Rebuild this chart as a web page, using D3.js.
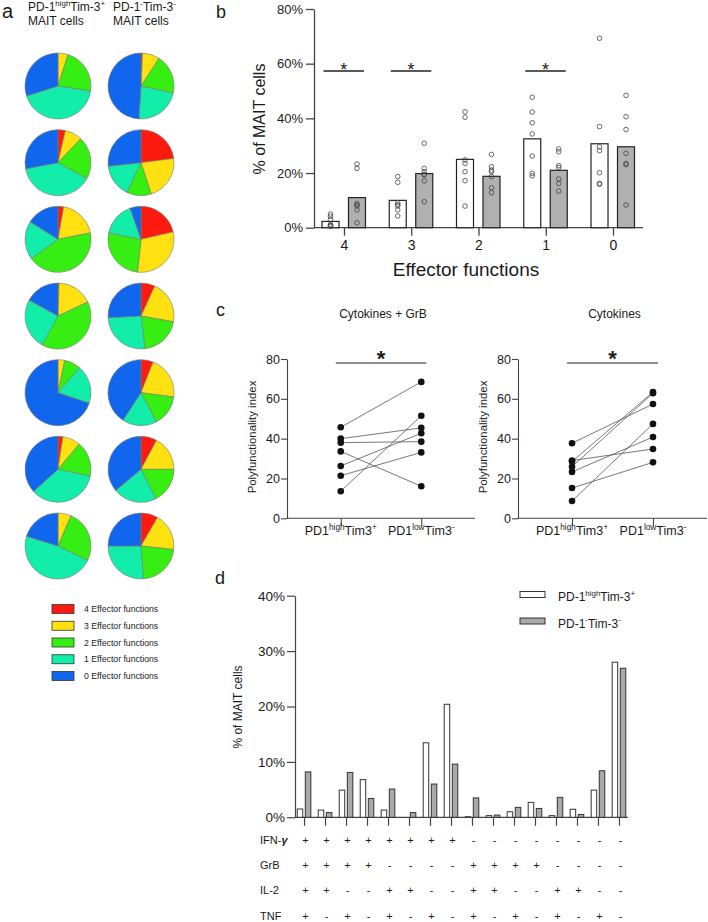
<!DOCTYPE html>
<html><head><meta charset="utf-8">
<script src="https://cdn.jsdelivr.net/npm/d3@7"></script>
<style>
body{margin:0;background:#fff}
svg{display:block}
text{font-family:"Liberation Sans",Arial,Helvetica,sans-serif;fill:#1a1a1a}
</style>
</head><body>
<svg id="fig" width="708" height="922"></svg>
<script>
// ================= DATA =================
// Panel a: pies (fraction of MAIT cells with 4,3,2,1,0 effector functions), one row per patient
const pieClasses = ["4 Effector functions","3 Effector functions","2 Effector functions","1 Effector functions","0 Effector functions"];
const pieColors = ["#ff1a10","#ffe010","#36ee12","#12eeaa","#1166ee"];
const pieHigh = [
  [0,4.9,22.6,42.6,29.9],
  [3.6,8.5,21.0,38.9,28.0],
  [2.8,19.1,43.3,18.9,16.1],
  [0.5,17.5,40.0,25.0,17.0],
  [0,3.3,8.0,18.9,69.8],
  [2.4,8.7,17.2,35.0,36.7],
  [0,6.5,25.7,47.6,20.2]
];
const pieNeg = [
  [0.8,8.4,19.3,22.5,49.0],
  [23.0,22.0,12.0,16.3,26.7],
  [21.4,30.3,26.5,16.4,5.4],
  [6.9,20.9,20.3,26.1,25.8],
  [6.0,21.1,15.2,16.9,40.8],
  [7.8,17.2,17.5,21.4,36.1],
  [8.3,18.4,22.2,26.1,25.0]
];

// Panel b
const effCats = ["4","3","2","1","0"];
const bHighMean = [2.3,10.0,25.0,32.5,30.7];
const bNegMean = [11.0,19.8,18.8,21.0,29.6];
const bHighPts = [
  [5.0,4.2,3.0,1.2,0.8,0.6,0.5],
  [18.7,16.6,9.1,8.4,8.0,6.5,4.3],
  [42.4,40.4,24.8,23.5,20.5,17.2,7.9],
  [47.7,42.3,38.4,34.3,26.2,19.9,19.0],
  [69.3,37.0,29.6,28.2,20.1,16.2,15.9]
];
const bNegPts = [
  [23.3,21.7,8.9,8.3,8.0,6.5,1.8],
  [30.9,21.7,20.5,19.5,19.3,17.1,9.5],
  [26.8,22.3,21.1,20.5,18.7,14.6,12.8],
  [28.8,27.8,22.7,22.0,17.8,16.2,13.4],
  [48.4,40.6,35.9,27.2,23.5,23.0,8.3]
];
const bSignif = ["4","3","1"];
const bTicks = [0,20,40,60,80];

// Panel c
const cGroups = ["high","low"];
const cGrbHigh = [45.7,40.0,38.0,33.6,26.3,21.4,13.6];
const cGrbLow  = [68.5,45.4,38.5,16.1,42.7,33.1,51.5];
const cCytHigh = [37.7,29.0,28.5,25.9,23.3,15.2,8.7];
const cCytLow  = [57.4,34.8,63.4,62.8,40.8,28.1,47.4];
const cTicks = [0,20,40,60,80];

// Panel d
const dHigh = [1.5,1.3,4.9,6.8,1.3,0,13.45,20.4,0.1,0.3,1.0,2.7,0.3,1.45,4.9,28.0];
const dNeg  = [8.2,0.85,8.1,3.4,5.1,0.85,6.0,9.6,3.5,0.4,1.8,1.6,3.6,0.5,8.4,26.9];
const dMarkers = ["IFN-γ","GrB","IL-2","TNF"];
const dCombos = [
  "++++++++--------",
  "++++----++++----",
  "++--++--++--++--",
  "+-+-+-+-+-+-+-+-"
];
const dTicks = [0,10,20,30,40];

// ================= DRAW =================
const svg = d3.select("#fig");

function rich(sel, parts, size){
  let shifted = false;
  parts.forEach(([t, sup]) => {
    const ts = sel.append("tspan").text(t);
    if (sup) { ts.attr("font-size", size*0.66).attr("dy", shifted ? 0 : -size*0.42); shifted = true; }
    else { ts.attr("font-size", size).attr("dy", shifted ? size*0.42 : 0); shifted = false; }
  });
  return sel;
}

// ---------- Panel a ----------
svg.append("text").attr("x",2).attr("y",18).attr("font-size",20).text("a");
rich(svg.append("text").attr("x",28).attr("y",11), [["PD-1"],["high",1],["Tim-3"],["+",1]], 12);
svg.append("text").attr("x",28).attr("y",25).attr("font-size",12).text("MAIT cells");
rich(svg.append("text").attr("x",113).attr("y",11), [["PD-1"],["-",1],["Tim-3"],["-",1]], 12);
svg.append("text").attr("x",113).attr("y",25).attr("font-size",12).text("MAIT cells");

const pieRowY = d3.scalePoint().domain(d3.range(pieHigh.length)).range([86,546]);
const pieColX = d3.scalePoint().domain(["high","neg"]).range([58,141]);
const pie = d3.pie().sort(null).value(d=>d);
const arc = d3.arc().innerRadius(0).outerRadius(33);
[["high",pieHigh],["neg",pieNeg]].forEach(([k,rows])=>{
  rows.forEach((vals,i)=>{
    const g = svg.append("g").attr("transform",`translate(${pieColX(k)},${pieRowY(i)})`);
    g.selectAll("path").data(pie(vals).filter(d=>d.data>0)).join("path")
      .attr("d",arc).attr("fill",d=>pieColors[d.index])
      .attr("stroke","#7a7a6a").attr("stroke-width",0.6);
  });
});
const legA = d3.scalePoint().domain(pieClasses).range([609,676]);
pieClasses.forEach((c,i)=>{
  svg.append("rect").attr("x",52).attr("y",legA(c)-4.5).attr("width",22).attr("height",9)
    .attr("fill",pieColors[i]).attr("stroke","#333").attr("stroke-width",0.8);
  svg.append("text").attr("x",84).attr("y",legA(c)+3.2).attr("font-size",8.7).text(c);
});

// ---------- Panel b ----------
svg.append("text").attr("x",216).attr("y",18).attr("font-size",18).text("b");
const xB = d3.scalePoint().domain(effCats).range([314,643]).padding(0.446);
const subB = d3.scaleBand().domain(["high","neg"]).range([-22,21.5]).paddingInner(0.358);
const yB = d3.scaleLinear().domain([0,80]).range([227.7,9]);
const axB = svg.append("g").attr("transform","translate(314,0)")
  .call(d3.axisLeft(yB).tickValues(bTicks).tickFormat(d=>d+"%").tickSize(8).tickPadding(3).tickSizeOuter(0));
const axBx = svg.append("g").attr("transform","translate(0,227.7)")
  .call(d3.axisBottom(xB).tickSize(8).tickPadding(4).tickSizeOuter(0));
axBx.select(".domain").attr("d","M314,0H643");
[axB,axBx].forEach(a=>{a.selectAll("path,line").attr("stroke","#444").attr("stroke-width",1.3);
  a.selectAll("text").attr("font-family",null).attr("fill","#1a1a1a");});
axB.selectAll("text").attr("font-size",13);
axBx.selectAll("text").attr("font-size",14);
svg.append("text").attr("transform","translate(265,119) rotate(-90)").attr("text-anchor","middle")
  .attr("font-size",16).text("% of MAIT cells");
svg.append("text").attr("x",466).attr("y",276).attr("text-anchor","middle").attr("font-size",19).text("Effector functions");
[["high",bHighMean,bHighPts,"#ffffff"],["neg",bNegMean,bNegPts,"#b0b0b0"]].forEach(([k,means,pts,fill])=>{
  effCats.forEach((c,i)=>{
    const x0 = xB(c)+subB(k);
    svg.append("rect").attr("x",x0).attr("y",yB(means[i])).attr("width",subB.bandwidth())
      .attr("height",yB(0)-yB(means[i])).attr("fill",fill).attr("stroke","#222").attr("stroke-width",1.2);
    svg.append("g").selectAll("circle").data(pts[i]).join("circle")
      .attr("cx",x0+subB.bandwidth()/2).attr("cy",d=>yB(d)).attr("r",2.3)
      .attr("fill","none").attr("stroke","#444").attr("stroke-width",0.8);
  });
});
bSignif.forEach(c=>{
  const xa = xB(c)+subB("high")+subB.bandwidth()/2+2, xb = xB(c)+subB("neg")+subB.bandwidth()/2-2;
  svg.append("line").attr("x1",xa-9).attr("x2",xb+9).attr("y1",71).attr("y2",71).attr("stroke","#222").attr("stroke-width",1.3);
  svg.append("text").attr("x",(xa+xb)/2).attr("y",76).attr("text-anchor","middle").attr("font-size",18).text("*");
});

// ---------- Panel c ----------
svg.append("text").attr("x",216).attr("y",316).attr("font-size",18).text("c");
const yC = d3.scaleLinear().domain([0,80]).range([518.3,359]);
function panelC(x0, x1, title, hi, lo){
  const xC = d3.scalePoint().domain(cGroups).range([x0,x1]).padding(0.667);
  svg.append("text").attr("x",xC("high")/2+xC("low")/2+2).attr("y",318).attr("text-anchor","middle")
    .attr("font-size",12).text(title);
  const ay = svg.append("g").attr("transform",`translate(${x0},0)`)
    .call(d3.axisLeft(yC).tickValues(cTicks).tickSize(6).tickPadding(1).tickSizeOuter(0));
  const ax = svg.append("g").attr("transform",`translate(0,${yC(0)})`)
    .call(d3.axisBottom(xC).tickSize(7).tickFormat("").tickSizeOuter(0));
  ax.select(".domain").attr("d",`M${x0},0H${x1}`);
  [ay,ax].forEach(a=>{a.selectAll("path,line").attr("stroke","#444").attr("stroke-width",1.1);
    a.selectAll("text").attr("font-family",null).attr("font-size",12.5).attr("fill","#1a1a1a");});
  rich(svg.append("text").attr("x",xC("high")).attr("y",535).attr("text-anchor","middle"),
    [["PD1"],["high",1],["Tim3"],["+",1]],12.5);
  rich(svg.append("text").attr("x",xC("low")).attr("y",535).attr("text-anchor","middle"),
    [["PD1"],["low",1],["Tim3"],["-",1]],12.5);
  svg.append("text").attr("transform",`translate(${x0-31.5},437) rotate(-90)`).attr("text-anchor","middle")
    .attr("font-size",11.4).text("Polyfunctionality index");
  const pairs = hi.map((h,i)=>[h, lo[i]]);
  svg.append("g").selectAll("line").data(pairs).join("line")
    .attr("x1",xC("high")).attr("x2",xC("low")).attr("y1",d=>yC(d[0])).attr("y2",d=>yC(d[1]))
    .attr("stroke","#555").attr("stroke-width",0.8);
  svg.append("g").selectAll("circle").data(hi).join("circle")
    .attr("cx",xC("high")).attr("cy",d=>yC(d)).attr("r",3.3).attr("fill","#111");
  svg.append("g").selectAll("circle").data(lo).join("circle")
    .attr("cx",xC("low")).attr("cy",d=>yC(d)).attr("r",3.3).attr("fill","#111");
  svg.append("line").attr("x1",xC("high")-5).attr("x2",xC("low")+5).attr("y1",363).attr("y2",363)
    .attr("stroke","#222").attr("stroke-width",1.1);
  svg.append("text").attr("x",(xC("high")+xC("low"))/2).attr("y",366).attr("text-anchor","middle")
    .attr("font-size",22).attr("font-weight","bold").text("*");
}
panelC(287,475,"Cytokines + GrB",cGrbHigh,cGrbLow);
panelC(518,707,"Cytokines",cCytHigh,cCytLow);

// ---------- Panel d ----------
svg.append("text").attr("x",215).attr("y",584).attr("font-size",18).text("d");
const comboIds = d3.range(dHigh.length).map(i=>dCombos.map(s=>s[i]).join(""));
const xD = d3.scalePoint().domain(comboIds).range([295,628]).padding(0.43);
const subD = d3.scaleBand().domain(["high","neg"]).range([-6.8,6.8]).paddingInner(0.32);
const yD = d3.scaleLinear().domain([0,40]).range([817.3,595.7]);
const ayD = svg.append("g").attr("transform","translate(295,0)")
  .call(d3.axisLeft(yD).tickValues(dTicks).tickFormat(d=>d+"%").tickSize(8).tickPadding(2).tickSizeOuter(0));
const axD = svg.append("g").attr("transform",`translate(0,${yD(0)})`)
  .call(d3.axisBottom(xD).tickSize(8.5).tickFormat("").tickSizeOuter(0));
axD.select(".domain").attr("d","M295,0H628");
[ayD,axD].forEach(a=>{a.selectAll("path,line").attr("stroke","#444").attr("stroke-width",1.2);
  a.selectAll("text").attr("font-family",null).attr("font-size",13.5).attr("fill","#1a1a1a");});
svg.append("text").attr("transform","translate(242,707) rotate(-90)").attr("text-anchor","middle")
  .attr("font-size",12).text("% of MAIT cells");
[["high",dHigh,"#ffffff"],["neg",dNeg,"#a9a9a9"]].forEach(([k,vals,fill])=>{
  svg.append("g").selectAll("rect").data(vals.map((v,i)=>({v,id:comboIds[i]})).filter(d=>d.v>0)).join("rect")
    .attr("x",d=>xD(d.id)+subD(k)).attr("y",d=>yD(d.v)).attr("width",subD.bandwidth())
    .attr("height",d=>yD(0)-yD(d.v)).attr("fill",fill).attr("stroke","#333").attr("stroke-width",1);
});
const rowY = d3.scalePoint().domain(dMarkers).range([844,919.5]);
dMarkers.forEach((m,r)=>{
  const t = svg.append("text").attr("x",260).attr("y",rowY(m)).attr("font-size",11);
  if (m==="IFN-γ"){ t.append("tspan").text("IFN-"); t.append("tspan").attr("font-style","italic").attr("font-weight","bold").text("γ"); }
  else t.text(m);
  svg.append("g").selectAll("text").data(comboIds).join("text")
    .attr("x",d=>xD(d)+1.5).attr("y",rowY(m)).attr("text-anchor","middle").attr("font-size",11)
    .text(d=>d[r]==="+"?"+":"-");
});
// legend d
const legD = d3.scalePoint().domain(["high","neg"]).range([594.5,621]);
svg.append("rect").attr("x",520).attr("y",legD("high")-3).attr("width",25).attr("height",6)
  .attr("fill","#fff").attr("stroke","#333").attr("stroke-width",1);
svg.append("rect").attr("x",520).attr("y",legD("neg")-3).attr("width",25).attr("height",6)
  .attr("fill","#a9a9a9").attr("stroke","#333").attr("stroke-width",1);
rich(svg.append("text").attr("x",558).attr("y",legD("high")+6.5), [["PD-1"],["high",1],["Tim-3"],["+",1]], 12);
rich(svg.append("text").attr("x",558).attr("y",legD("neg")+6.5), [["PD-1"],["-",1],["Tim-3"],["-",1]], 12);
</script>
</body></html>
